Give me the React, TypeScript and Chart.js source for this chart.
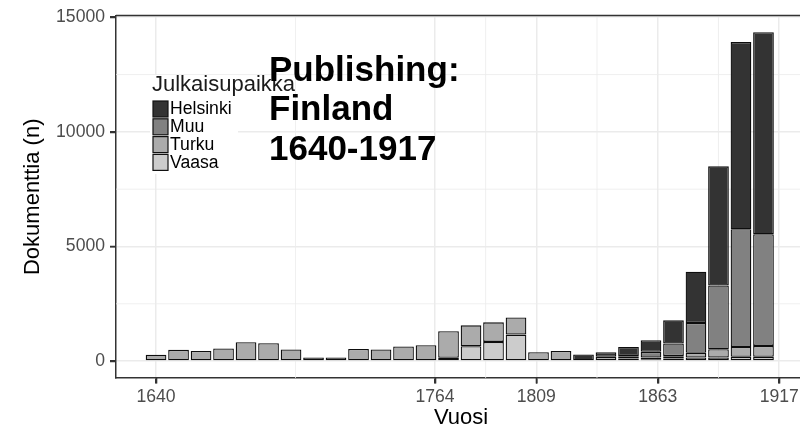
import React, { useEffect, useRef } from "react";
import { Chart, registerables } from "chart.js";

Chart.register(...registerables);

// ---- data (documents per decade, by place of publishing) ----
const years = [1640, 1650, 1660, 1670, 1680, 1690, 1700, 1710, 1720, 1730, 1740, 1750, 1760, 1770, 1780, 1790, 1800, 1810, 1820, 1830, 1840, 1850, 1860, 1870, 1880, 1890, 1900, 1910];
const helsinki = [null, null, null, null, null, null, null, null, null, null, null, null, null, null, null, null, null, null, null, 290, 204, 403, 507, 1010, 2240, 5200, 8163, 8814];
const muu = [null, null, null, null, null, null, null, null, null, null, null, null, null, null, null, null, null, null, null, null, null, 100, 243, 550, 1300, 2775, 5132, 4872];
const turku = [275, 490, 446, 550, 824, 780, 507, 160, 160, 533, 507, 637, 694, 1157, 910, 853, 750, 390, 446, null, 186, 117, 100, 100, 200, 360, 434, 477];
const vaasa = [null, null, null, null, null, null, null, null, null, null, null, null, null, 143, 650, 837, 1157, null, null, null, null, null, 60, 117, 160, 160, 186, 186];

const seriesNames = ["Helsinki", "Muu", "Turku", "Vaasa"];
const seriesColors = ["#333333", "#818181", "#ababab", "#cccccc"];
const xBreaks = [1640, 1764, 1809, 1863, 1917];
const yBreaks = [0, 5000, 10000, 15000];
const legendTitle = "Julkaisupaikka";
const overlayLines = ["Publishing:", "Finland", "1640-1917"];
const xTitle = "Vuosi";
const yTitle = "Dokumenttia (n)";

const FONT = "'Liberation Sans', Arial, Helvetica, sans-serif";

function midpoints(b: number[]) {
  const out: number[] = [];
  for (let i = 0; i < b.length - 1; i++) out.push((b[i] + b[i + 1]) / 2);
  return out;
}

const xMinor = midpoints(xBreaks);
const yMinor = midpoints(yBreaks);

export default function App() {
  const ref = useRef<HTMLCanvasElement | null>(null);

  useEffect(() => {
    const canvas = ref.current;
    if (!canvas) return;

    const series = [helsinki, muu, turku, vaasa];
    // stack bottom to top: Vaasa, Turku, Muu, Helsinki
    const order = [3, 2, 1, 0];
    const datasets = order.map((si) => ({
      label: seriesNames[si],
      data: years.map((y, i) => ({ x: y, y: series[si][i] })),
      backgroundColor: seriesColors[si],
      borderColor: "#0d0d0d",
      borderWidth: 1.3,
      borderSkipped: false as const,
      barPercentage: 0.92,
      categoryPercentage: 1,
    }));

    const overlay = {
      id: "overlay",
      beforeDatasetsDraw(chart: any) {
        const ctx = chart.ctx as CanvasRenderingContext2D;
        const ca = chart.chartArea;
        const xs = chart.scales.x;
        const ys = chart.scales.y;
        ctx.save();
        // minor grid lines
        ctx.strokeStyle = "#ebebeb";
        ctx.lineWidth = 0.8;
        ctx.beginPath();
        xMinor.forEach((v) => {
          const px = xs.getPixelForValue(v);
          ctx.moveTo(px, ca.top);
          ctx.lineTo(px, ca.bottom);
        });
        yMinor.forEach((v) => {
          const py = ys.getPixelForValue(v);
          ctx.moveTo(ca.left, py);
          ctx.lineTo(ca.right, py);
        });
        ctx.stroke();
        // legend background
        ctx.fillStyle = "#ffffff";
        ctx.fillRect(150, 75, 88, 99);
        ctx.restore();
      },
      afterDatasetsDraw(chart: any) {
        const ctx = chart.ctx as CanvasRenderingContext2D;
        const ca = chart.chartArea;
        ctx.save();
        // top panel border
        ctx.strokeStyle = "#333333";
        ctx.lineWidth = 1.5;
        ctx.beginPath();
        ctx.moveTo(ca.left, ca.top);
        ctx.lineTo(ca.right, ca.top);
        ctx.stroke();

        // legend
        ctx.fillStyle = "#1a1a1a";
        ctx.font = `22px ${FONT}`;
        ctx.textBaseline = "alphabetic";
        ctx.textAlign = "left";
        ctx.fillText(legendTitle, 152, 91);
        const ds = chart.data.datasets.slice().reverse();
        ds.forEach((d: any, i: number) => {
          const top = 101 + i * 17.8;
          ctx.fillStyle = d.backgroundColor;
          ctx.fillRect(153, top, 15, 16);
          ctx.strokeStyle = "#111111";
          ctx.lineWidth = 1.2;
          ctx.strokeRect(153, top, 15, 16);
          ctx.fillStyle = "#000000";
          ctx.font = `17.6px ${FONT}`;
          ctx.textBaseline = "middle";
          ctx.fillText(d.label, 170, top + 8.5);
        });

        // overlay title
        ctx.fillStyle = "#000000";
        ctx.font = `bold 35px ${FONT}`;
        ctx.textBaseline = "alphabetic";
        const base = [81, 120, 160];
        overlayLines.forEach((t, i) => ctx.fillText(t, 269, base[i]));
        ctx.restore();
      },
      afterDraw(chart: any) {
        const ctx = chart.ctx as CanvasRenderingContext2D;
        const ca = chart.chartArea;
        const xs = chart.scales.x;
        const ys = chart.scales.y;
        ctx.save();
        ctx.strokeStyle = "#333333";
        ctx.lineWidth = 1.6;
        ctx.beginPath();
        xBreaks.forEach((v) => {
          const px = Math.round(xs.getPixelForValue(v)) + 0.5;
          ctx.moveTo(px, ca.bottom);
          ctx.lineTo(px, ca.bottom + 5.5);
        });
        yBreaks.forEach((v) => {
          const py = Math.round(ys.getPixelForValue(v)) + 0.5;
          ctx.moveTo(ca.left - 6, py);
          ctx.lineTo(ca.left, py);
        });
        ctx.stroke();
        ctx.restore();
      },
    };

    const chart = new Chart(canvas, {
      type: "bar",
      data: { datasets },
      plugins: [overlay],
      options: {
        animation: false,
        responsive: false,
        maintainAspectRatio: false,
        layout: { padding: { top: 13, right: 0, bottom: 0, left: 0 } },
        plugins: {
          legend: { display: false },
          tooltip: { enabled: false },
          title: { display: false },
        },
        scales: {
          x: {
            type: "linear",
            stacked: true,
            offset: false,
            min: 1622.2,
            max: 1928.9,
            afterBuildTicks: (scale: any) => {
              scale.ticks = xBreaks.map((v) => ({ value: v }));
            },
            afterFit: (scale: any) => {
              scale.height = 55;
            },
            ticks: {
              autoSkip: false,
              maxRotation: 0,
              padding: 3,
              color: "#4d4d4d",
              font: { size: 17.6, family: FONT },
              callback: (v: any) => String(v),
            },
            grid: {
              offset: false,
              color: "#ebebeb",
              lineWidth: 1.5,
              tickColor: "#333333",
              tickWidth: 1.5,
              tickLength: 5.5,
              drawTicks: true,
            },
            border: { display: true, color: "#333333", width: 1.5 },
            title: {
              display: true,
              text: xTitle,
              color: "#000000",
              font: { size: 22, family: FONT },
              padding: { top: 0, bottom: 2 },
            },
          },
          y: {
            type: "linear",
            stacked: true,
            min: -737,
            max: 15073,
            afterBuildTicks: (scale: any) => {
              scale.ticks = yBreaks.map((v) => ({ value: v }));
            },
            afterFit: (scale: any) => {
              scale.width = 116;
            },
            ticks: {
              autoSkip: false,
              padding: 5,
              color: "#4d4d4d",
              font: { size: 17.6, family: FONT },
              callback: (v: any) => String(v),
            },
            grid: {
              color: "#ebebeb",
              lineWidth: 1.5,
              tickColor: "#333333",
              tickWidth: 1.5,
              tickLength: 6,
              drawTicks: true,
            },
            border: { display: true, color: "#333333", width: 1.5 },
            title: {
              display: true,
              text: yTitle,
              color: "#000000",
              font: { size: 22, family: FONT },
              padding: { top: 20, bottom: 0 },
            },
          },
        },
      },
    } as any);

    return () => chart.destroy();
  }, []);

  return (
    <div style={{ position: "fixed", left: 0, top: 0, width: 806, height: 433, background: "#ffffff" }}>
      <canvas ref={ref} width={806} height={433} style={{ display: "block", width: 806, height: 433 }} />
    </div>
  );
}
